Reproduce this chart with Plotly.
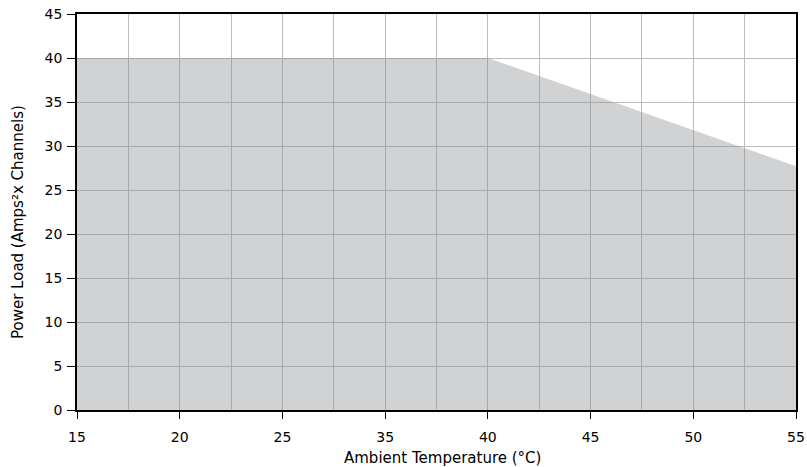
import plotly.graph_objects as go

# Tick labels as printed on the reference (note: 30 is absent, labels evenly spaced)
x_labels = ["15", "20", "25", "35", "40", "45", "50", "55"]
# Power load limit read at each labelled temperature
power_load = [40, 40, 40, 40, 40, 35.9, 31.8, 27.7]
y_ticks = [0, 5, 10, 15, 20, 25, 30, 35, 40, 45]

x_title = "Ambient Temperature (°C)"
y_title = "Power Load (Amps²x Channels)"

x_pos = list(range(len(x_labels)))

fig = go.Figure()
fig.add_trace(go.Scatter(
    x=x_pos, y=power_load,
    mode="lines",
    line=dict(width=0, color="rgba(0,0,0,0)"),
    fill="tozeroy",
    fillcolor="rgba(134,136,141,0.377)",
    hoverinfo="skip",
    showlegend=False,
))

font_family = "DejaVu Sans, Verdana, sans-serif"

fig.update_layout(
    width=807, height=467,
    margin=dict(l=77, r=11, t=14, b=57),
    paper_bgcolor="white",
    plot_bgcolor="white",
    font=dict(family=font_family, size=14, color="black"),
    showlegend=False,
)

fig.update_xaxes(
    range=[0, len(x_labels) - 1],
    tickmode="array",
    tickvals=x_pos,
    ticktext=x_labels,
    ticks="outside", ticklen=7, tickwidth=1.2, tickcolor="black",
    ticklabelstandoff=6,
    showgrid=True, gridcolor="#bdbdbd", gridwidth=1,
    minor=dict(dtick=0.5, showgrid=True, gridcolor="#bdbdbd", gridwidth=1, ticks=""),
    showline=True, linecolor="black", linewidth=1.5, mirror=True,
    zeroline=False,
    automargin=False,
    tickfont=dict(size=14, family=font_family),
)

fig.update_yaxes(
    range=[0, 45],
    tickmode="array",
    tickvals=y_ticks,
    ticks="outside", ticklen=8, tickwidth=1.2, tickcolor="black",
    ticklabelstandoff=2,
    showgrid=True, gridcolor="#bdbdbd", gridwidth=1,
    showline=True, linecolor="black", linewidth=1.5, mirror=True,
    zeroline=False,
    automargin=False,
    tickfont=dict(size=14, family=font_family),
)

fig.add_annotation(
    text=x_title, xref="paper", yref="paper", x=0.5, y=0,
    xshift=6, yshift=-48, xanchor="center", yanchor="middle",
    showarrow=False, font=dict(size=15, family=font_family, color="black"),
)
fig.add_annotation(
    text=y_title, xref="paper", yref="paper", x=0, y=0.5,
    xshift=-59, yshift=-10, xanchor="center", yanchor="middle",
    textangle=-90,
    showarrow=False, font=dict(size=15, family=font_family, color="black"),
)

fig.write_html(
    "out.html",
    config={"displayModeBar": False},
    post_script="document.body.style.margin='0px';document.body.style.overflow='hidden';",
)
